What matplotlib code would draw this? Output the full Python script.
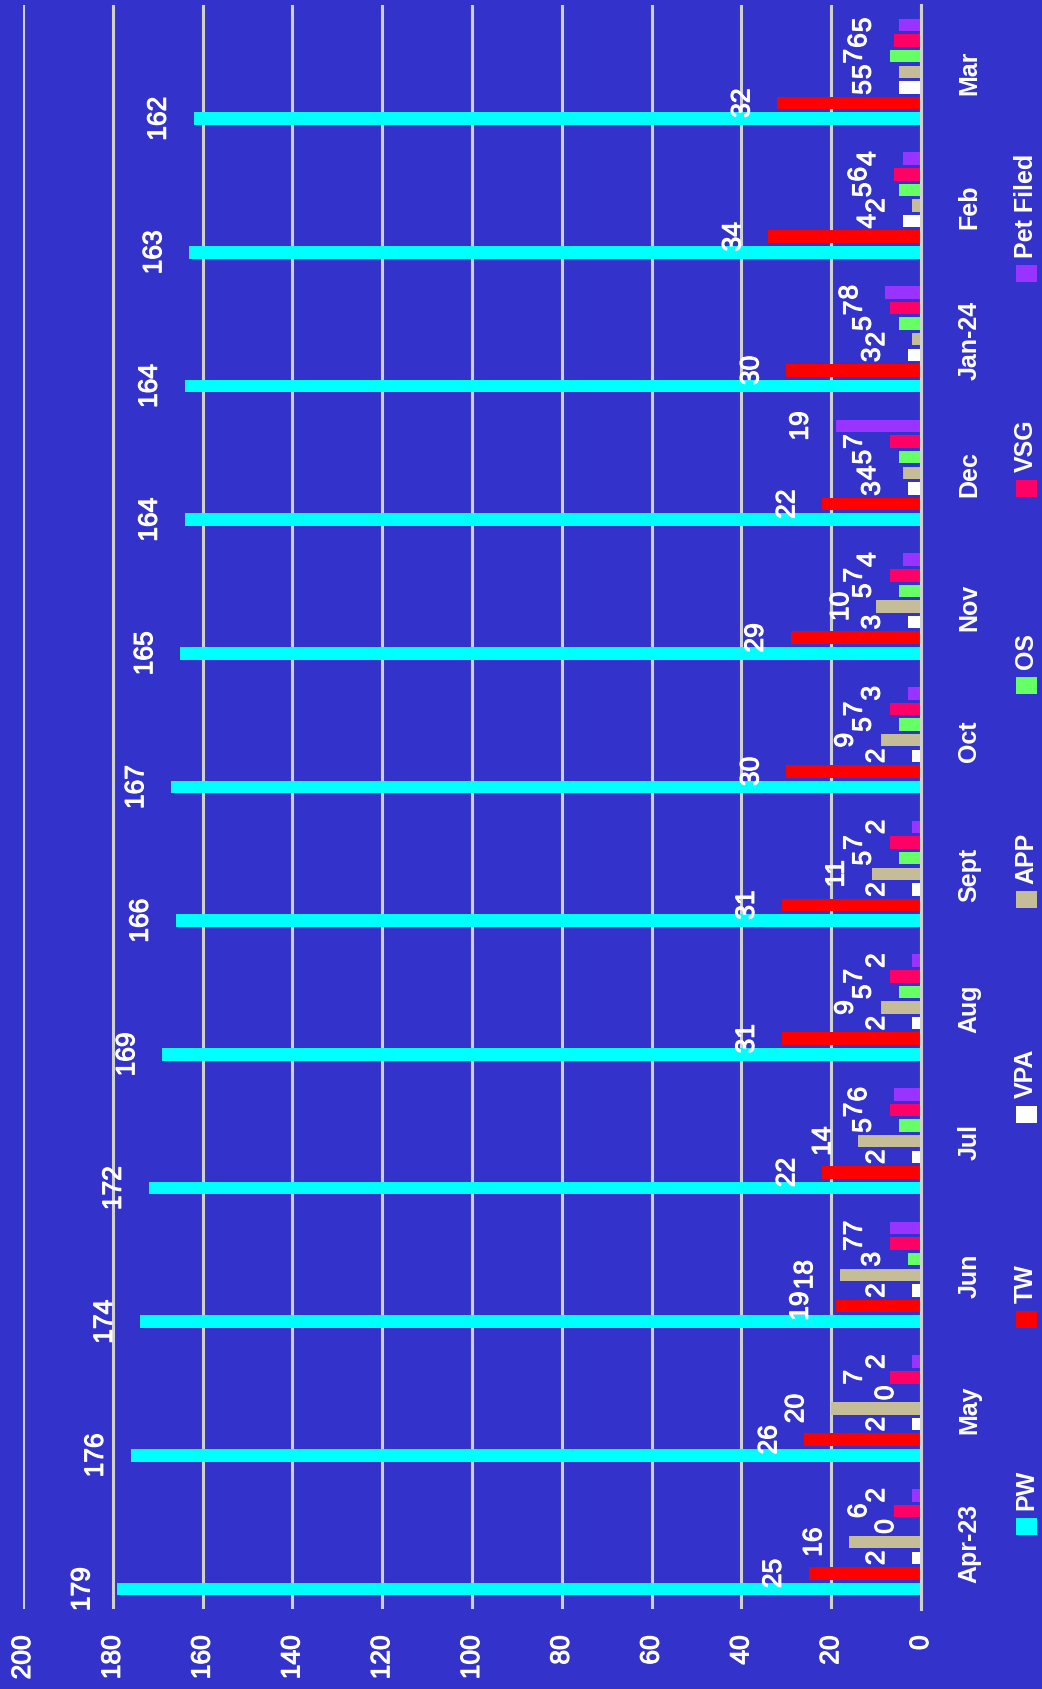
import matplotlib
matplotlib.use("Agg")
import matplotlib.pyplot as plt
from matplotlib.patches import Rectangle
from matplotlib import font_manager, patheffects

# ---- data -------------------------------------------------------------
months = ["Apr-23", "May", "Jun", "Jul", "Aug", "Sept", "Oct", "Nov",
          "Dec", "Jan-24", "Feb", "Mar"]
series_names = ["PW", "TW", "VPA", "APP", "OS", "VSG", "Pet Filed"]
pw = [179, 176, 174, 172, 169, 166, 167, 165, 164, 164, 163, 162]
tw = [25, 26, 19, 22, 31, 31, 30, 29, 22, 30, 34, 32]
vpa = [2, 2, 2, 2, 2, 2, 2, 3, 3, 3, 4, 5]
app = [16, 20, 18, 14, 9, 11, 9, 10, 4, 2, 2, 5]
os_ = [0, 0, 3, 5, 5, 5, 5, 5, 5, 5, 5, 7]
vsg = [6, 7, 7, 7, 7, 7, 7, 7, 7, 7, 6, 6]
pet_filed = [2, 2, 7, 6, 2, 2, 3, 4, 19, 8, 4, 5]
value_ticks = [0, 20, 40, 60, 80, 100, 120, 140, 160, 180, 200]

series = [pw, tw, vpa, app, os_, vsg, pet_filed]
colors = ["#00FFFF", "#FF0000", "#FFFFFF", "#C4BD97", "#66FF66",
          "#FF0066", "#9933FF"]

# ---- styling ----------------------------------------------------------
installed = {f.name for f in font_manager.fontManager.ttflist}
family = [f for f in ["Liberation Sans Narrow", "Liberation Sans", "DejaVu Sans"]
          if f in installed]
plt.rcParams["font.family"] = family
narrow = family[0] == "Liberation Sans Narrow"
FS = 24 if narrow else 19
FS_B = 22.5 if narrow else 18

BG = "#3333CC"
GRID = "#D0D0D0"
thick = [patheffects.withStroke(linewidth=0.8, foreground="white")]

W, H = 1042, 1690
fig = plt.figure(figsize=(W / 100, H / 100), dpi=100, facecolor=BG)
ax = fig.add_axes([23 / W, (H - 1610) / H, (921 - 23) / W, (1610 - 6) / H])
ax.set_facecolor(BG)

step = 0.117
bar_h = 0.094
n = len(series)
for k, (vals, col) in enumerate(zip(series, colors)):
    ys = [i + (k - (n - 1) / 2) * step for i in range(len(months))]
    ax.barh(ys, vals, height=bar_h, color=col, zorder=3)
    for y, v in zip(ys, vals):
        ax.annotate(str(v), xy=(v, y), xytext=(-16.5, 0),
                    textcoords="offset points", rotation=90,
                    ha="right", va="center", color="white",
                    fontsize=FS, zorder=5, path_effects=thick)

ax.set_xlim(200, 0)
ax.set_ylim(-0.5, len(months) - 0.5)
ax.set_xticks(value_ticks)
ax.set_xticklabels([str(t) for t in value_ticks], rotation=90,
                   color="white", fontsize=FS, path_effects=thick)
ax.set_yticks(range(len(months)))
ax.yaxis.tick_right()
ax.set_yticklabels(months, rotation=90, va="center", color="white",
                   fontsize=FS_B, fontweight="bold")
ax.tick_params(axis="x", length=0, pad=19)
ax.tick_params(axis="y", length=0, pad=26)
ax.grid(axis="x", color=GRID, linewidth=2.2, zorder=1)
ax.grid(axis="y", visible=False)
for side in ["top", "bottom", "left"]:
    ax.spines[side].set_visible(False)
ax.spines["right"].set_color(GRID)
ax.spines["right"].set_linewidth(2.2)
ax.spines["right"].set_zorder(4)

# ---- legend (rotated, along the right edge) ----------------------------
legend_centres = [1527, 1320, 1115, 900, 686, 489, 274]
mx, mw, mh = 1026, 21, 17
for name, col, yc in zip(series_names, colors, legend_centres):
    fig.patches.append(Rectangle(((mx - mw / 2) / W, 1 - (yc + mh / 2) / H),
                                 mw / W, mh / H, transform=fig.transFigure,
                                 facecolor=col, edgecolor="none"))
    fig.text(mx / W, 1 - (yc - mh / 2 - 8) / H, name, rotation=90,
             ha="center", va="bottom", color="white", fontsize=FS_B,
             fontweight="bold")

fig.savefig("out.png", dpi=100, facecolor=BG)
